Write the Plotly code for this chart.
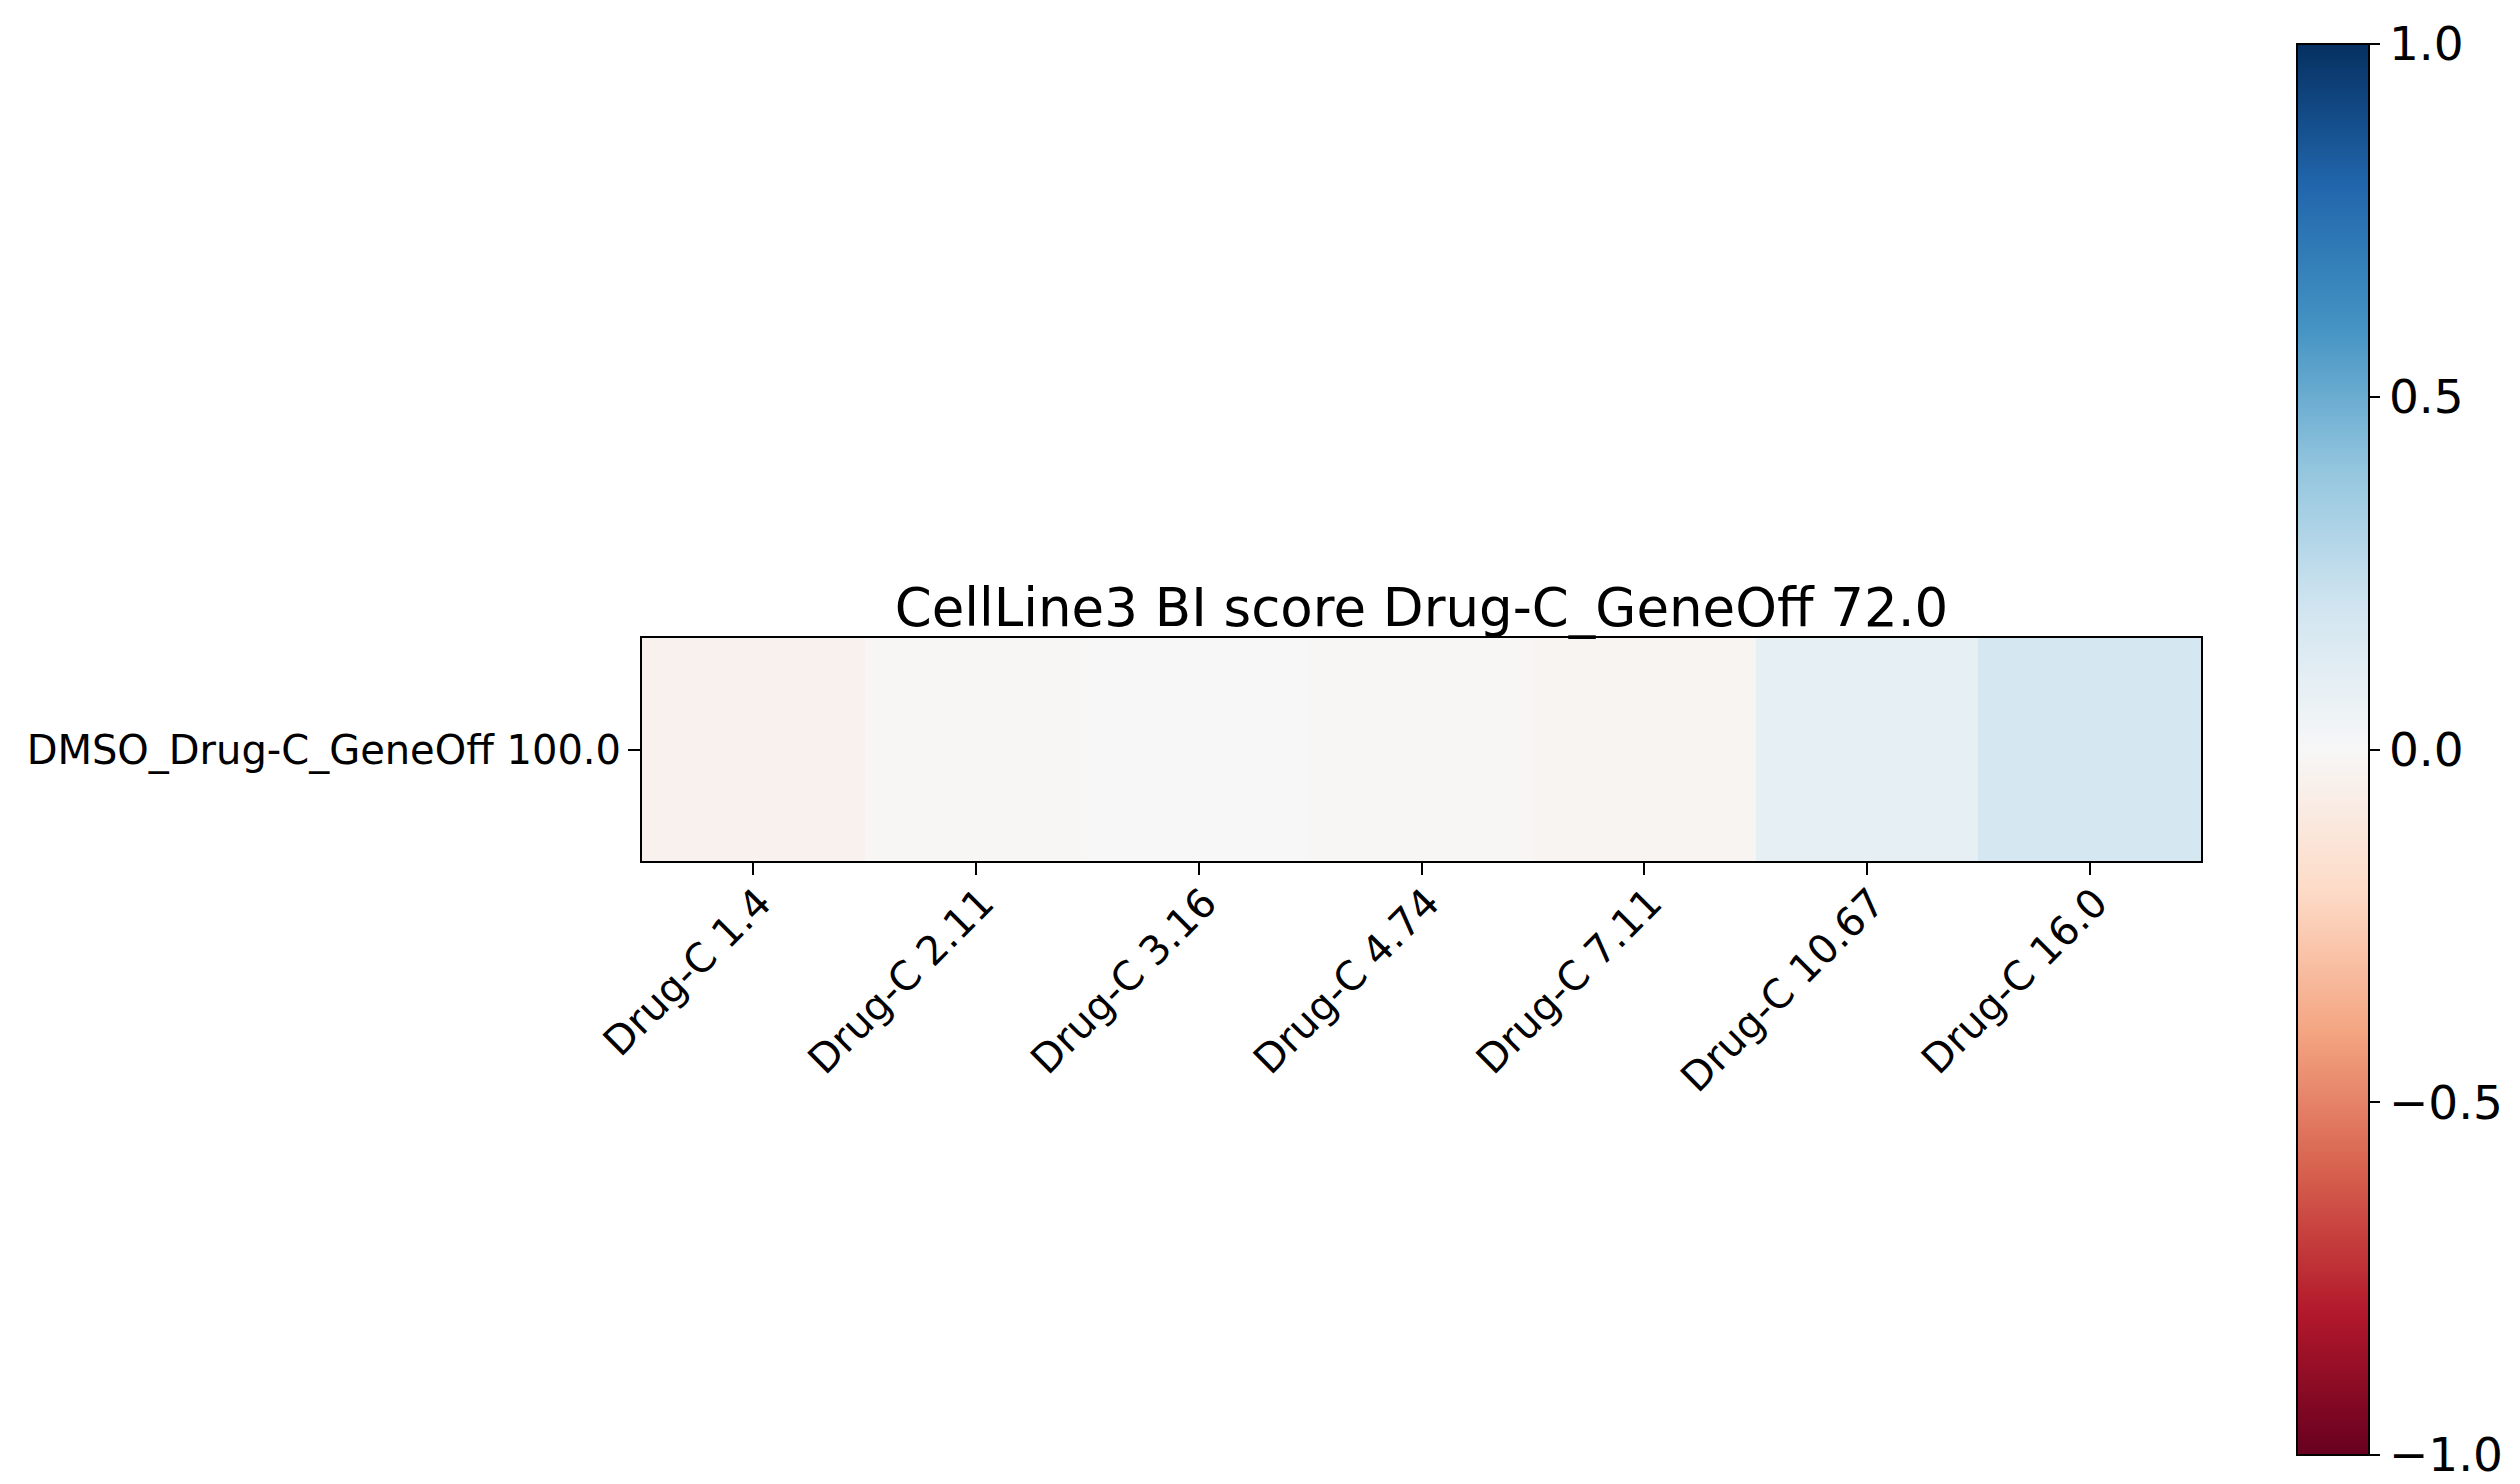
import plotly.graph_objects as go

# data
doses = ["Drug-C 1.4", "Drug-C 2.11", "Drug-C 3.16", "Drug-C 4.74",
         "Drug-C 7.11", "Drug-C 10.67", "Drug-C 16.0"]
rows = ["DMSO_Drug-C_GeneOff 100.0"]
bi_scores = [-0.04, -0.01, 0.0, -0.008, -0.025, 0.09, 0.18]

# matplotlib RdBu (red low, blue high)
rdbu = ["#67001f", "#b2182b", "#d6604d", "#f4a582", "#fddbc7", "#f7f7f7",
        "#d1e5f0", "#92c5de", "#4393c3", "#2166ac", "#053061"]
colorscale = [[i / (len(rdbu) - 1), c] for i, c in enumerate(rdbu)]

W, H = 2520, 1484
L, R, T, B = 642, 2201, 638, 861
font = "DejaVu Sans"

fig = go.Figure(go.Heatmap(
    z=[bi_scores], x=doses, y=rows,
    zmin=-1, zmax=1, colorscale=colorscale,
    colorbar=dict(
        thickness=72, len=1411, lenmode="pixels", ypad=0, xpad=0,
        x=(2297 - L) / (R - L), xanchor="left", xref="paper",
        y=(B - 749.5) / (B - T), yanchor="middle", yref="paper",
        outlinewidth=2, outlinecolor="black",
        tickvals=[-1, -0.5, 0, 0.5, 1],
        ticktext=["\u22121.0", "\u22120.5", "0.0", "0.5", "1.0"],
        ticks="outside", ticklen=10, tickwidth=2, tickcolor="black",
        tickfont=dict(family=font, size=47, color="black"),
    ),
    hoverongaps=False,
))

axis_common = dict(showline=True, linecolor="black", linewidth=2, mirror=True,
                   ticks="outside", ticklen=12, tickwidth=2, tickcolor="black",
                   showgrid=False, zeroline=False,
                   tickfont=dict(family=font, size=40, color="black"))

fig.update_xaxes(tickangle=-45, ticklabelstandoff=-12, ticklabelshift=6,
                 **axis_common)
fig.update_yaxes(ticklabelstandoff=-1, **axis_common)

fig.update_layout(
    width=W, height=H,
    margin=dict(l=L, r=W - R, t=T, b=H - B, autoexpand=False),
    paper_bgcolor="white", plot_bgcolor="white",
    font=dict(family=font, color="black"),
    title=dict(text="CellLine3 BI score Drug-C_GeneOff 72.0",
               x=0.5, xref="paper", xanchor="center",
               y=1, yref="paper", yanchor="bottom",
               pad=dict(b=12),
               font=dict(family=font, size=53, color="black")),
)

# drop the browser's default body margin so the figure sits at the page origin
fig.write_html("out.html", config={"displayModeBar": False},
               post_script="document.body.style.margin='0';")
